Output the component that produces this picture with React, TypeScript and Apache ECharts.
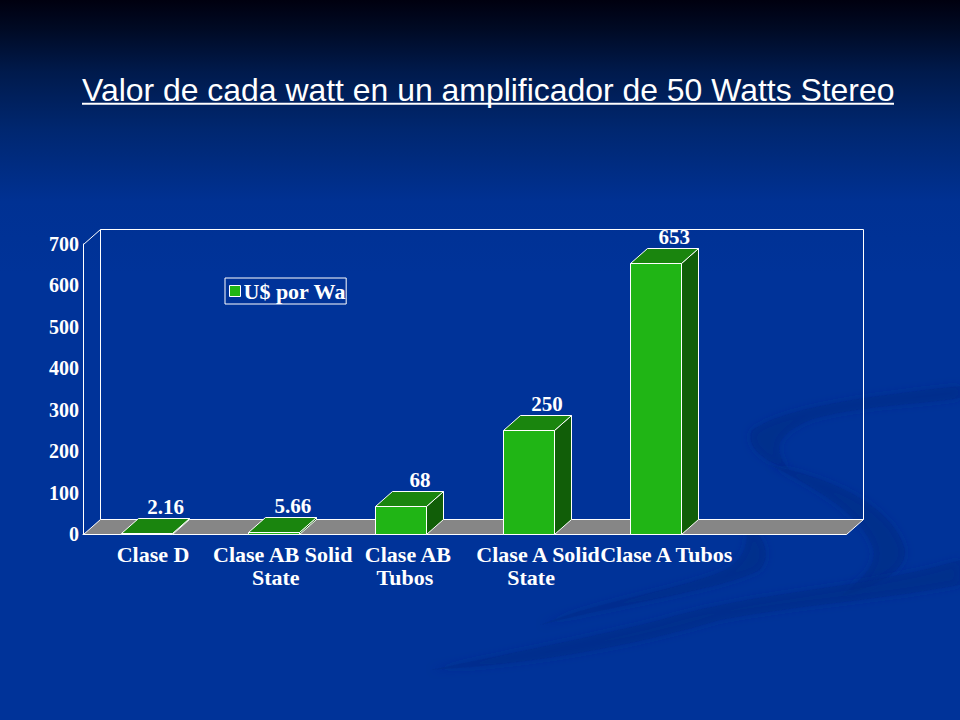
import React, { useEffect, useRef } from "react";
import * as echarts from "echarts";

const titleText = "Valor de cada watt en un amplificador de 50 Watts Stereo";
const seriesName = "U$ por Wa";
const categories = ["Clase D", "Clase AB Solid\nState", "Clase AB\nTubos", "Clase A Solid\nState", "Clase A Tubos", ""];
const barValues = [2.16, 5.66, 68, 250, 653];
const yTicks = { min: 0, max: 700, interval: 100 };

const DEPTH_X = 17;
const DEPTH_Y = 15;
const SERIF = "'Liberation Serif'";
const WHITE = "#ffffff";

const swooshes = [
  "M960 386 C880 395 790 405 752 430 C745 445 760 460 790 470 C772 450 775 435 810 420 C860 405 920 405 960 398 Z",
  "M770 465 C840 480 895 510 905 550 C907 570 880 585 840 597 C860 580 880 565 872 545 C860 515 820 490 770 465 Z",
  "M960 560 C860 590 760 590 660 620 C580 640 500 655 430 670 C520 665 620 650 720 620 C800 605 880 600 960 585 Z",
  "M745 525 C765 535 772 555 760 570 C720 590 640 600 540 625 C600 600 680 590 725 570 C745 560 750 540 745 525 Z",
];
swooshes.forEach((d, i) => {
  echarts.graphic.registerShape("swoosh" + i, (echarts.graphic as any).extendPath(d, {}));
});

const baseLabel = { fontFamily: SERIF, fontSize: 22, fontWeight: "bold", color: WHITE, lineHeight: 23 };
const labelShift: Record<string, number[]> = {
  "Clase D": [13, 0],
  "Clase AB Solid": [18, 4],
  "Clase AB": [14, 8],
  "Clase A Solid": [20, 6],
  "Clase A Tubos": [22, 0],
};
const rich: Record<string, any> = {};
const tokens: Record<string, string[]> = {};
Object.keys(labelShift).forEach((k, i) => {
  tokens[k] = ["a" + i, "b" + i];
  rich["a" + i] = { ...baseLabel, padding: [0, 0, 0, labelShift[k][0]] };
  rich["b" + i] = { ...baseLabel, padding: [0, 0, 0, labelShift[k][1]] };
});
const formatLabel = (v: string) => {
  const lines = v.split("\n");
  const t = tokens[lines[0]];
  if (!t) return v;
  return lines.map((line, i) => `{${t[i]}|${line}}`).join("\n");
};

const crisp = (v: number) => Math.round(v) + 0.5;

function renderFrame(params: any, api: any) {
  const cs = params.coordSys;
  const l = crisp(cs.x), r = crisp(cs.x + cs.width), t = crisp(cs.y), b = crisp(cs.y + cs.height);
  const lineStyle = { stroke: WHITE, lineWidth: 1, fill: "none" };
  return {
    type: "group",
    silent: true,
    children: [
      { type: "polygon", shape: { points: [[l, b], [l + DEPTH_X, b - DEPTH_Y], [r + DEPTH_X, b - DEPTH_Y], [r, b]] }, style: { fill: "#868686", stroke: WHITE, lineWidth: 1 } },
      { type: "polyline", shape: { points: [[l, t], [l + DEPTH_X, t - DEPTH_Y], [r + DEPTH_X, t - DEPTH_Y], [r + DEPTH_X, b - DEPTH_Y]] }, style: lineStyle },
      { type: "line", shape: { x1: l + DEPTH_X, y1: t - DEPTH_Y, x2: l + DEPTH_X, y2: b - DEPTH_Y }, style: lineStyle },
    ],
  };
}

function renderBar(params: any, api: any) {
  const idx = api.value(0);
  const val = api.value(1);
  const top = api.coord([idx, val]);
  const base = api.coord([idx, 0]);
  const w = api.size([1, 0])[0] * 0.4;
  const x0 = crisp(top[0] - w / 2), x1 = crisp(top[0] + w / 2);
  const yT = crisp(top[1]), yB = crisp(base[1]);
  const edge = { stroke: WHITE, lineWidth: 1 };
  return {
    type: "group",
    children: [
      { type: "polygon", shape: { points: [[x1, yB], [x1 + DEPTH_X, yB - DEPTH_Y], [x1 + DEPTH_X, yT - DEPTH_Y], [x1, yT]] }, style: { fill: "#115e08", ...edge } },
      { type: "polygon", shape: { points: [[x0, yT], [x0 + DEPTH_X, yT - DEPTH_Y], [x1 + DEPTH_X, yT - DEPTH_Y], [x1, yT]] }, style: { fill: "#1a850e", ...edge } },
      { type: "rect", shape: { x: x0, y: yT, width: x1 - x0, height: yB - yT }, style: { fill: "#20b515", ...edge } },
      { type: "text", style: { text: String(val), x: top[0] + DEPTH_X + 2, y: yT - DEPTH_Y - 12, textAlign: "center", textVerticalAlign: "middle", fill: WHITE, font: `bold 21px ${SERIF}` } },
    ],
  };
}

export default function App() {
  const ref = useRef<HTMLDivElement>(null);
  useEffect(() => {
    const chart = echarts.init(ref.current!, undefined, { renderer: "svg" });
    chart.setOption({
      animation: false,
      backgroundColor: {
        type: "linear", x: 0, y: 0, x2: 0, y2: 1,
        colorStops: [
          { offset: 0, color: "#00000f" },
          { offset: 0.04, color: "#000a24" },
          { offset: 0.1, color: "#001a4c" },
          { offset: 0.18, color: "#002770" },
          { offset: 0.28, color: "#003193" },
          { offset: 0.38, color: "#003399" },
          { offset: 1, color: "#003399" },
        ],
      },
      graphic: [
        ...swooshes.map((_, i) => ({
          type: "swoosh" + i, z: -10, silent: true,
          style: { fill: "#002c88", opacity: 0.45, shadowBlur: 8, shadowColor: "#002c88" },
        })),
        {
          type: "text", x: 82, y: 91, scaleX: 1.03, silent: true,
          style: { text: titleText, fill: WHITE, font: "normal 31px 'Liberation Sans'", textAlign: "left", textVerticalAlign: "middle" },
        },
        { type: "line", shape: { x1: 82, y1: 103.7, x2: 894, y2: 103.7 }, style: { stroke: WHITE, lineWidth: 2 }, silent: true },
      ],
      legend: {
        left: 225, top: 278, orient: "horizontal", padding: [2, 0, 2, 4], borderColor: WHITE, borderWidth: 1,
        itemWidth: 11, itemHeight: 11, itemGap: 0,
        data: [{ name: seriesName, icon: "rect", itemStyle: { color: "#20b515", borderColor: WHITE, borderWidth: 1 } }],
        textStyle: { fontFamily: SERIF, fontSize: 22, fontWeight: "bold", color: WHITE, padding: [0, 0, 0, -2] },
        selectedMode: false,
      },
      grid: { left: 83, right: 114, top: 244, bottom: 186, containLabel: false },
      xAxis: {
        type: "category",
        data: categories,
        axisLine: { show: true, lineStyle: { color: WHITE, width: 1 } },
        axisTick: { show: false },
        axisLabel: { interval: 0, margin: 9, formatter: formatLabel, rich, ...baseLabel },
      },
      yAxis: {
        type: "value",
        ...yTicks,
        axisLine: { show: true, lineStyle: { color: WHITE, width: 1 } },
        axisTick: { show: false },
        splitLine: { show: false },
        axisLabel: { margin: 4, fontFamily: SERIF, fontSize: 20, fontWeight: "bold", color: WHITE },
      },
      series: [
        { type: "custom", name: "frame", z: 1, silent: true, clip: false, renderItem: renderFrame, data: [[0, 0]], encode: { x: 0, y: 1 } },
        { type: "custom", name: seriesName, z: 3, clip: false, renderItem: renderBar, data: barValues.map((v, i) => [i, v]), encode: { x: 0, y: 1 }, itemStyle: { color: "#20b515" } },
      ],
    });
    return () => chart.dispose();
  }, []);
  return <div ref={ref} style={{ position: "absolute", left: 0, top: 0, width: 960, height: 720 }} />;
}
